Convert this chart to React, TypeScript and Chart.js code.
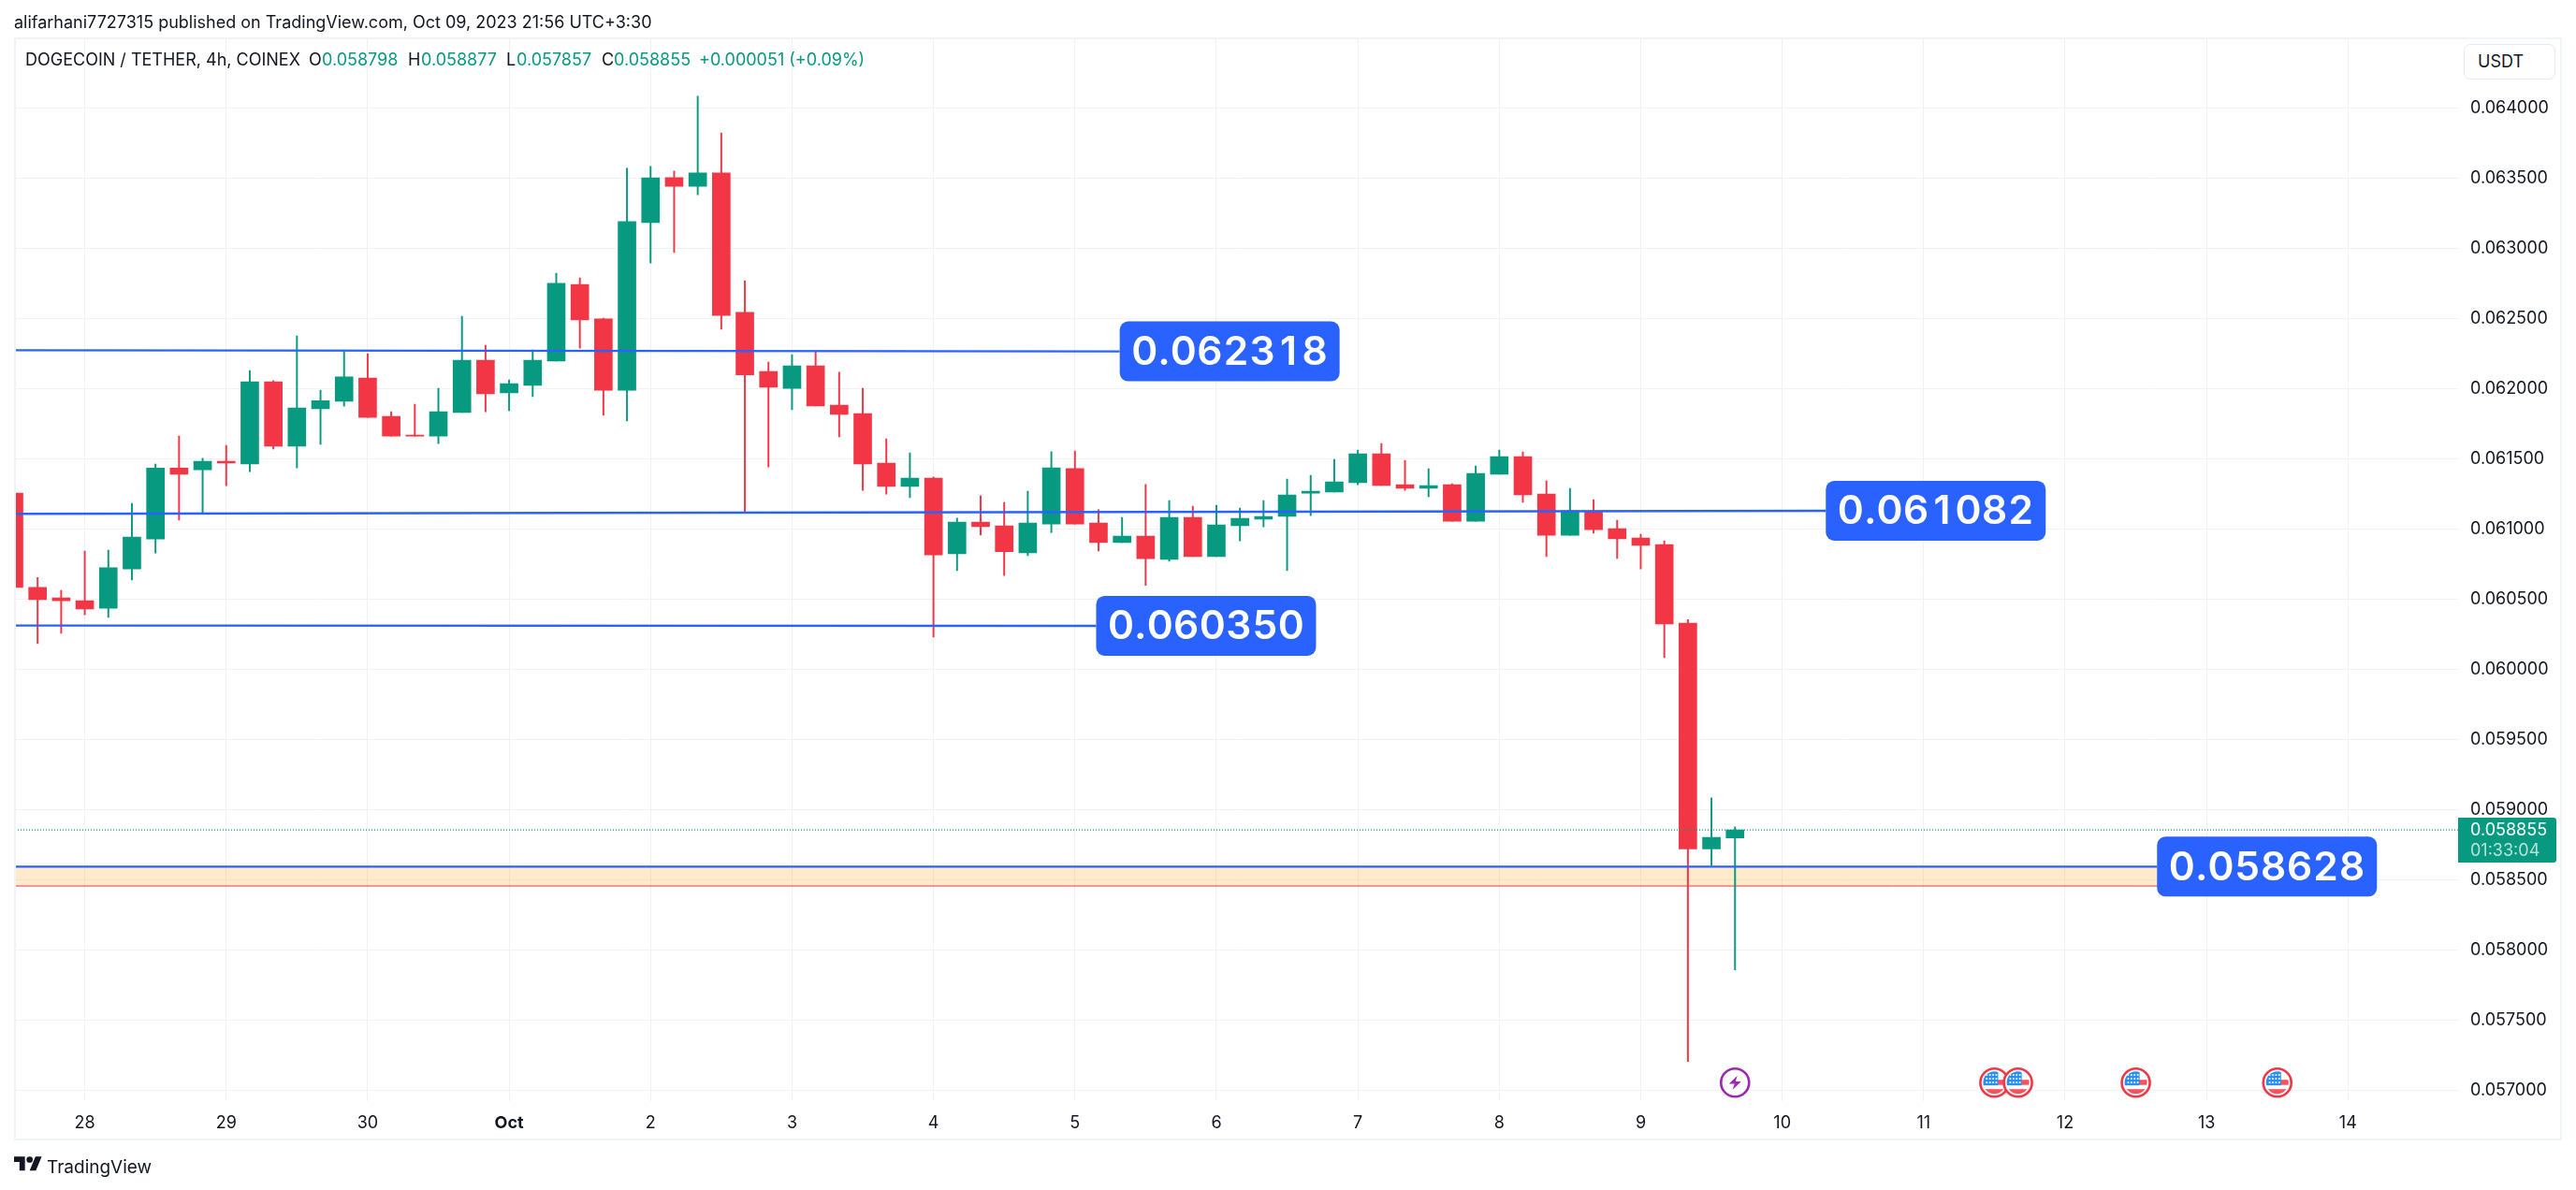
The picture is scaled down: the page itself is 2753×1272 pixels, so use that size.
import React, { useEffect, useRef } from "react";
import { Chart, registerables } from "chart.js";

Chart.register(...registerables);

// ---- chart data (prices in USDT, x in 4h bars counted from Sep 28 00:00) ----
const barIndex = [-3,-2,-1,0,1,2,3,4,5,6,7,8,9,10,11,12,13,14,15,16,17,18,19,20,21,22,23,24,25,26,27,28,29,30,31,32,33,34,35,36,37,38,39,40,41,42,43,44,45,46,47,48,49,50,51,52,53,54,55,56,57,58,59,60,61,62,63,64,65,66,67,68,69,70];
const opens = [0.061255,0.060583,0.060509,0.060488,0.060435,0.060715,0.060928,0.061434,0.061421,0.061482,0.061463,0.062049,0.061590,0.061856,0.061909,0.062075,0.061801,0.061669,0.061661,0.061830,0.062201,0.061969,0.062022,0.062196,0.062742,0.062497,0.061988,0.063182,0.063503,0.063441,0.063536,0.062543,0.062121,0.062001,0.062162,0.061882,0.061822,0.061468,0.061302,0.061362,0.060823,0.061049,0.061022,0.060829,0.061035,0.061430,0.061041,0.060902,0.060948,0.060782,0.061082,0.060802,0.061022,0.061069,0.061089,0.061255,0.061262,0.061329,0.061535,0.061315,0.061289,0.061315,0.061055,0.061389,0.061515,0.061249,0.060955,0.061122,0.061002,0.060935,0.060889,0.060328,0.058719,0.058798];
const closes = [0.060583,0.060496,0.060488,0.060430,0.060723,0.060941,0.061434,0.061389,0.061482,0.061469,0.062049,0.061590,0.061861,0.061914,0.062083,0.061795,0.061661,0.061661,0.061835,0.062201,0.061962,0.062035,0.062201,0.062750,0.062489,0.061988,0.063190,0.063501,0.063441,0.063536,0.062521,0.062097,0.062010,0.062162,0.061876,0.061816,0.061462,0.061302,0.061362,0.060815,0.061049,0.061016,0.060837,0.061041,0.061435,0.061035,0.060902,0.060948,0.060788,0.061082,0.060802,0.061029,0.061075,0.061089,0.061242,0.061269,0.061335,0.061535,0.061309,0.061289,0.061309,0.061055,0.061395,0.061515,0.061242,0.060955,0.061129,0.060995,0.060929,0.060882,0.060322,0.058719,0.058802,0.058855];
const highs = [0.061255,0.060654,0.060562,0.060841,0.060849,0.061181,0.061461,0.061661,0.061503,0.061595,0.062128,0.062056,0.062375,0.061988,0.062265,0.062249,0.061835,0.061888,0.062001,0.062515,0.062309,0.062062,0.062275,0.062821,0.062789,0.062502,0.063570,0.063583,0.063550,0.064083,0.063822,0.062769,0.062189,0.062241,0.062263,0.062116,0.062001,0.061642,0.061541,0.061370,0.061076,0.061237,0.061188,0.061269,0.061550,0.061555,0.061136,0.061082,0.061316,0.061201,0.061162,0.061169,0.061149,0.061202,0.061355,0.061382,0.061495,0.061562,0.061609,0.061489,0.061429,0.061322,0.061449,0.061562,0.061549,0.061342,0.061289,0.061209,0.061062,0.060962,0.060915,0.060354,0.059083,0.058877];
const lows = [0.060583,0.060182,0.060256,0.060388,0.060369,0.060636,0.060828,0.061063,0.061110,0.061308,0.061408,0.061569,0.061434,0.061603,0.061875,0.061795,0.061661,0.061661,0.061608,0.061830,0.061835,0.061843,0.061943,0.062196,0.062288,0.061809,0.061769,0.062895,0.062970,0.063381,0.062423,0.061117,0.061441,0.061849,0.061876,0.061656,0.061275,0.061248,0.061223,0.060230,0.060703,0.060956,0.060668,0.060810,0.060975,0.061035,0.060842,0.060902,0.060597,0.060769,0.060802,0.060802,0.060915,0.061015,0.060702,0.061095,0.061262,0.061315,0.061309,0.061275,0.061229,0.061055,0.061055,0.061389,0.061189,0.060802,0.060955,0.060969,0.060789,0.060715,0.060082,0.057204,0.058602,0.057857];

const dayTicks = [0,6,12,18,24,30,36,42,48,54,60,66,72,78,84,90,96];
const dayLabels = ["28","29","30","Oct","2","3","4","5","6","7","8","9","10","11","12","13","14"];
const priceTicks = [0.057,0.0575,0.058,0.0585,0.059,0.0595,0.06,0.0605,0.061,0.0615,0.062,0.0625,0.063,0.0635,0.064];

// drawn trend lines, price at the left edge and at the label end
const levelLabels = ["0.062318","0.061082","0.060350","0.058628"];
const levelStartPrices = [0.062273,0.061107,0.060311,0.058593];
const levelEndPrices = [0.062265,0.061129,0.060309,0.058593];
const levelEndBars = [43.9,73.85,42.9,87.9];

const zoneTop = 0.058593;
const zoneBottom = 0.058455;
const zoneEndBar = 88.05;

const lastPrice = 0.058855;
const lastPriceLabel = "0.058855";
const countdownLabel = "01:33:04";

const lightningBars = [70];
const flagBars = [81,82,87,93];

const xMin = -2.96;
const xMax = 100.67;
const yMin = 0.056924;
const yMax = 0.064489;

const GREEN = "#089981";
const RED = "#f23645";
const BLUE = "#2962ff";
const INK = "#131722";
const GRID = "#f0f2f6";
const FONT = "Inter, 'Noto Sans', sans-serif";

const candleColors = opens.map((o, i) => (closes[i] >= o ? GREEN : RED));

const levelDatasets = levelLabels.map((label, i) => ({
  type: "line" as const,
  label,
  data: [
    { x: xMin, y: levelStartPrices[i] },
    { x: levelEndBars[i], y: levelEndPrices[i] },
  ],
  borderColor: BLUE,
  borderWidth: 2.4,
  pointRadius: 0,
  order: 1,
}));

function roundRect(ctx: CanvasRenderingContext2D, x: number, y: number, w: number, h: number, r: any) {
  ctx.beginPath();
  ctx.roundRect(x, y, w, h, r);
}

// digits drawn in equal cells, as tabular figures
function tabularText(ctx: CanvasRenderingContext2D, text: string, cx: number, y: number) {
  const cell = ctx.measureText("0").width;
  const widths = Array.from(text).map((c) => (c >= "0" && c <= "9" ? cell : ctx.measureText(c).width));
  let x = cx - widths.reduce((a, b) => a + b, 0) / 2;
  ctx.textAlign = "center";
  Array.from(text).forEach((c, i) => {
    ctx.fillText(c, x + widths[i] / 2, y);
    x += widths[i];
  });
}

function drawFlag(ctx: CanvasRenderingContext2D, cx: number, cy: number) {
  ctx.save();
  ctx.beginPath();
  ctx.arc(cx, cy, 15, 0, Math.PI * 2);
  ctx.fillStyle = "#ffffff";
  ctx.fill();
  ctx.lineWidth = 2.6;
  ctx.strokeStyle = RED;
  ctx.stroke();
  ctx.beginPath();
  ctx.arc(cx, cy, 12, 0, Math.PI * 2);
  ctx.clip();
  ctx.fillStyle = "#f7525f";
  ctx.fillRect(cx, cy - 3, 14, 5.5);
  ctx.fillRect(cx - 14, cy + 7, 28, 6);
  ctx.fillStyle = "#2a8ff0";
  ctx.fillRect(cx - 14, cy - 13, 18, 16);
  ctx.fillStyle = "#ffffff";
  for (let r = 0; r < 3; r++) {
    for (let c = 0; c < 4; c++) {
      ctx.fillRect(cx - 9 + c * 3.4, cy - 9 + r * 4, 1.7, 1.7);
    }
  }
  ctx.restore();
}

function drawLightning(ctx: CanvasRenderingContext2D, cx: number, cy: number) {
  ctx.save();
  ctx.beginPath();
  ctx.arc(cx, cy, 15, 0, Math.PI * 2);
  ctx.fillStyle = "#ffffff";
  ctx.fill();
  ctx.lineWidth = 2.6;
  ctx.strokeStyle = "#9c27b0";
  ctx.stroke();
  ctx.beginPath();
  ctx.moveTo(cx + 2.5, cy - 7.5);
  ctx.lineTo(cx - 6.5, cy + 1.2);
  ctx.lineTo(cx - 0.5, cy + 1.2);
  ctx.lineTo(cx - 2.5, cy + 7.5);
  ctx.lineTo(cx + 6.5, cy - 1.2);
  ctx.lineTo(cx + 0.5, cy - 1.2);
  ctx.closePath();
  ctx.fillStyle = "#9c27b0";
  ctx.fill();
  ctx.restore();
}

const zonePlugin = {
  id: "zone",
  beforeDatasetsDraw(chart: any) {
    const { ctx, scales, chartArea } = chart;
    const top = scales.y.getPixelForValue(zoneTop);
    const bottom = scales.y.getPixelForValue(zoneBottom);
    const right = scales.x.getPixelForValue(zoneEndBar);
    ctx.save();
    ctx.fillStyle = "rgba(255,152,0,0.2)";
    ctx.fillRect(chartArea.left, top, right - chartArea.left, bottom - top);
    ctx.strokeStyle = RED;
    ctx.lineWidth = 1;
    ctx.beginPath();
    ctx.moveTo(chartArea.left, bottom);
    ctx.lineTo(right, bottom);
    ctx.lineTo(right, top);
    ctx.stroke();
    ctx.restore();
  },
};

const overlayPlugin = {
  id: "overlay",
  afterDatasetsDraw(chart: any) {
    const { ctx, scales, chartArea } = chart;
    const boxW = 235;
    const boxH = 64;
    ctx.save();
    // level labels
    levelLabels.forEach((label, i) => {
      const x = scales.x.getPixelForValue(levelEndBars[i]);
      const y = scales.y.getPixelForValue(levelEndPrices[i]);
      ctx.fillStyle = BLUE;
      roundRect(ctx, x, y - boxH / 2, boxW, boxH, 9);
      ctx.fill();
      ctx.fillStyle = "#ffffff";
      ctx.font = `600 42.5px ${FONT}`;
      ctx.textBaseline = "middle";
      tabularText(ctx, label, x + boxW / 2, y + 1.5);
    });
    // event marks
    const markY = chartArea.bottom - 19.5;
    lightningBars.forEach((b) => drawLightning(ctx, scales.x.getPixelForValue(b), markY));
    flagBars.forEach((b) => drawFlag(ctx, scales.x.getPixelForValue(b), markY));
    // last price tag
    const lastY = scales.y.getPixelForValue(lastPrice);
    ctx.fillStyle = GREEN;
    roundRect(ctx, chartArea.right, lastY - 13, 105, 48, [0, 3, 3, 0]);
    ctx.fill();
    ctx.textAlign = "left";
    ctx.textBaseline = "middle";
    ctx.font = `18px ${FONT}`;
    ctx.fillStyle = "#ffffff";
    ctx.fillText(lastPriceLabel, chartArea.right + 13, lastY + 1);
    ctx.fillStyle = "rgba(255,255,255,0.7)";
    ctx.fillText(countdownLabel, chartArea.right + 13, lastY + 23);
    ctx.restore();
  },
};

const valueStyle: React.CSSProperties = { position: "absolute", top: 54, lineHeight: "20px", whiteSpace: "nowrap", fontSize: 18 };
const legendParts: [number, string, string][] = [
  [27, "DOGECOIN / TETHER, 4h, COINEX", INK],
  [330, "O", INK],
  [344, "0.058798", GREEN],
  [436, "H", INK],
  [450, "0.058877", GREEN],
  [541, "L", INK],
  [552, "0.057857", GREEN],
  [643, "C", INK],
  [656, "0.058855", GREEN],
  [747, "+0.000051 (+0.09%)", GREEN],
];

export default function App() {
  const ref = useRef<HTMLCanvasElement | null>(null);

  useEffect(() => {
    if (!ref.current) return;
    const chart = new Chart(ref.current, {
      type: "bar",
      data: {
        datasets: [
          {
            label: "Wick",
            data: barIndex.map((x, i) => ({ x, y: [lows[i], highs[i]] })),
            backgroundColor: candleColors,
            barThickness: 1.3,
            grouped: false,
            order: 3,
          },
          {
            label: "Body",
            data: barIndex.map((x, i) => ({ x, y: [opens[i], closes[i]] })),
            backgroundColor: candleColors,
            barThickness: 19,
            grouped: false,
            order: 2,
          },
          ...levelDatasets,
          {
            type: "line",
            label: "Last price",
            data: [
              { x: xMin, y: lastPrice },
              { x: xMax, y: lastPrice },
            ],
            borderColor: GREEN,
            borderWidth: 1.2,
            borderDash: [1, 2],
            pointRadius: 0,
            order: 0,
          },
        ],
      } as any,
      options: {
        animation: false,
        responsive: false,
        layout: { padding: { left: 16, top: 42, right: 15, bottom: 53.3 } },
        plugins: { legend: { display: false }, tooltip: { enabled: false } },
        scales: {
          x: {
            type: "linear",
            offset: false,
            min: xMin,
            max: xMax,
            grid: { color: GRID, lineWidth: 1, drawTicks: false, offset: false },
            border: { display: false },
            afterBuildTicks: (s: any) => {
              s.ticks = dayTicks.map((value) => ({ value }));
            },
            afterFit: (s: any) => {
              s.height = 42;
            },
            ticks: {
              autoSkip: false,
              maxRotation: 0,
              padding: 13,
              color: INK,
              font: (c: any) => ({ family: FONT, size: 18, weight: c.tick && c.tick.value === 18 ? "700" : "400" }),
              callback: (v: any) => dayLabels[dayTicks.indexOf(Number(v))],
            },
          },
          y: {
            type: "linear",
            position: "right",
            min: yMin,
            max: yMax,
            grid: { color: GRID, lineWidth: 1, drawTicks: false },
            border: { display: false },
            afterBuildTicks: (s: any) => {
              s.ticks = priceTicks.map((value) => ({ value }));
            },
            afterFit: (s: any) => {
              s.width = 111;
            },
            ticks: {
              autoSkip: false,
              padding: 13,
              color: INK,
              font: { family: FONT, size: 18 },
              callback: (v: any) => Number(v).toFixed(6),
            },
          },
        },
      } as any,
      plugins: [zonePlugin, overlayPlugin],
    });
    return () => chart.destroy();
  }, []);

  return (
    <div style={{ position: "absolute", left: 0, top: 0, width: 2753, height: 1272, background: "#fff", overflow: "hidden", fontFamily: FONT }}>
      <canvas ref={ref} width={2753} height={1272} style={{ display: "block", position: "absolute", left: 0, top: 0 }} />
      <div style={{ position: "absolute", left: 15, top: 40, width: 2723, height: 1179, border: "2px solid #f0f3fa", boxSizing: "border-box", pointerEvents: "none" }} />
      <div style={{ position: "absolute", left: 15, top: 14, lineHeight: "20px", fontSize: 18, color: INK, whiteSpace: "nowrap" }}>
        alifarhani7727315 published on TradingView.com, Oct 09, 2023 21:56 UTC+3:30
      </div>
      {legendParts.map(([left, text, color]) => (
        <div key={left} style={{ ...valueStyle, left, color }}>{text}</div>
      ))}
      <div style={{ position: "absolute", left: 2633, top: 47, width: 98, height: 38, boxSizing: "border-box", border: "1px solid #e6e9f2", borderRadius: 7, background: "#fff", color: INK, fontSize: 18, lineHeight: "36px", paddingLeft: 14 }}>USDT</div>
      <svg style={{ position: "absolute", left: 15, top: 1236 }} width="30" height="17" viewBox="0 4 36 20">
        <path fill={INK} d="M14 22H7V11H0V4h14v18zM28 22h-8l7.5-18h8L28 22z" />
        <circle fill={INK} cx="20" cy="8" r="4" />
      </svg>
      <div style={{ position: "absolute", left: 50, top: 1236, lineHeight: "24px", fontSize: 19, color: INK, whiteSpace: "nowrap" }}>TradingView</div>
    </div>
  );
}
